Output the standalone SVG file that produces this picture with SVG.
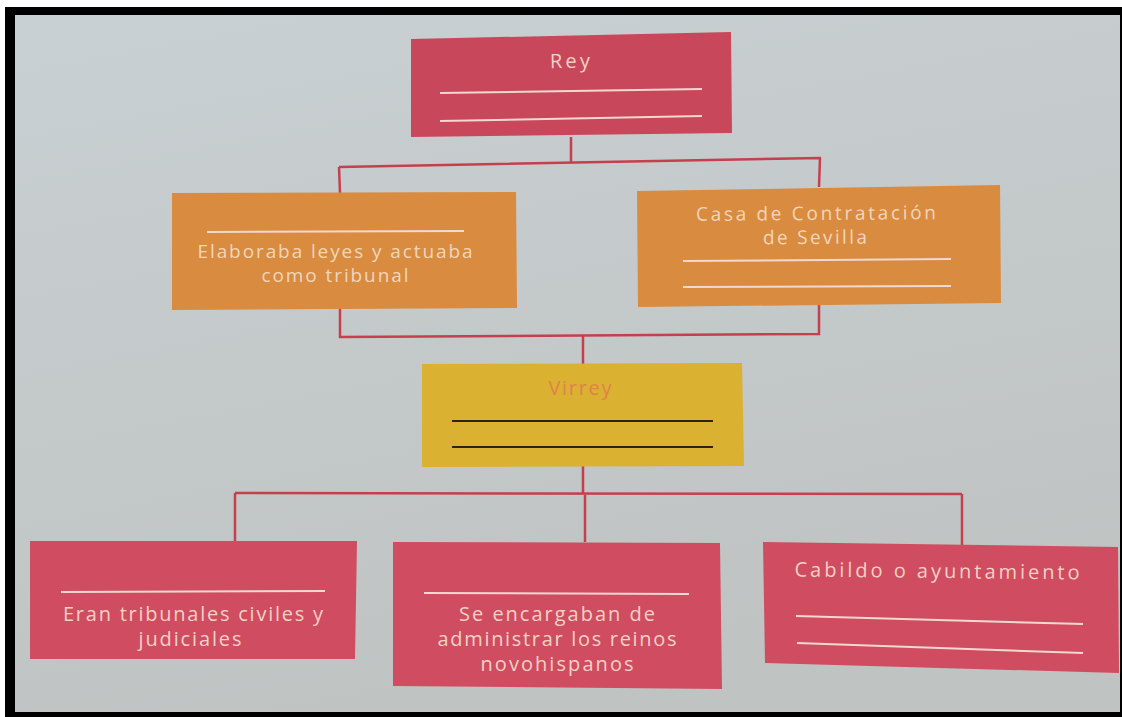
<svg xmlns="http://www.w3.org/2000/svg" width="1122" height="717" viewBox="0 0 1122 717">
<defs>
<linearGradient id="bg" x1="0" y1="0" x2="0.3" y2="1">
<stop offset="0" stop-color="#c9d0d3"/>
<stop offset="1" stop-color="#bfc3c2"/>
</linearGradient>
</defs>
<style>
.red{fill:#c9475a}
.red2{fill:#d04c60}
.orange{fill:#d98b3f}
.yellow{fill:#dbb132}
.rule{stroke:#f1d9d2;stroke-width:2;fill:none}
.rule-dark{stroke:#2a2318;stroke-width:2;fill:none}
.lbl{font-family:"Open Sans","Noto Sans",sans-serif;fill:#f0d2c6;text-anchor:middle;font-size:20px}
.lbl-o{font-family:"Open Sans","Noto Sans",sans-serif;fill:#f0d6bc;text-anchor:middle;font-size:19px}
.lbl-v{font-family:"Open Sans","Noto Sans",sans-serif;fill:#e0824a;text-anchor:middle;font-size:20px}
.conn{stroke:#c53f4d;stroke-width:2.5;fill:none}
</style>
<rect x="0" y="0" width="1122" height="717" fill="#ffffff"/>
<rect x="5" y="7" width="1117" height="710" fill="#000000"/>
<rect x="15" y="15" width="1105" height="697" fill="url(#bg)"/>

<g id="connectors">
<path class="conn" d="M571,137 L571,163 M339,167 L821,158 M339,167 L340,193 M820,158 L819,187 M340,309 L340,337 L819,334 L819,303 M583,336 L583,364 M583,466 L583,493 M235,493 L962,494 M235,493 L235,541 M585,493 L585,542 M962,494 L962,545"/>
</g>

<g id="rey">
<polygon class="red" points="411,39 731,32 732,133 411,137"/>
<text class="lbl" x="570" y="68" font-size="21" textLength="40" lengthAdjust="spacing" transform="rotate(-0.9 570 68)">Rey</text>
<line class="rule" x1="440" y1="93" x2="702" y2="89"/>
<line class="rule" x1="440" y1="121" x2="702" y2="116"/>
</g>

<g id="consejo-indias">
<polygon class="orange" points="172,193 516,192 517,308 172,310"/>
<line class="rule" x1="207" y1="232" x2="464" y2="231"/>
<text class="lbl-o" x="335" y="258" textLength="275" lengthAdjust="spacing">Elaboraba leyes y actuaba</text>
<text class="lbl-o" x="335" y="282" textLength="147" lengthAdjust="spacing">como tribunal</text>
</g>

<g id="casa-contratacion">
<polygon class="orange" points="637,191 1000,185 1001,303 638,307"/>
<text class="lbl-o" x="816" y="220" textLength="240" lengthAdjust="spacing" transform="rotate(-0.4 816 220)">Casa de Contratación</text>
<text class="lbl-o" x="815" y="244" textLength="104" lengthAdjust="spacing" transform="rotate(-0.4 815 244)">de Sevilla</text>
<line class="rule" x1="683" y1="261" x2="951" y2="259"/>
<line class="rule" x1="683" y1="287" x2="951" y2="286"/>
</g>

<g id="virrey">
<polygon class="yellow" points="422,364 742,363 744,466 422,467"/>
<text class="lbl-v" x="580" y="395" textLength="63" lengthAdjust="spacing">Virrey</text>
<line class="rule-dark" x1="452" y1="421" x2="713" y2="421"/>
<line class="rule-dark" x1="452" y1="447" x2="713" y2="447"/>
</g>

<g id="audiencias">
<polygon class="red2" points="30,541 357,541 355,659 30,659"/>
<line class="rule" x1="61" y1="592" x2="325" y2="591"/>
<text class="lbl" x="193" y="621" textLength="260" lengthAdjust="spacing">Eran tribunales civiles y</text>
<text class="lbl" x="190" y="646" textLength="103" lengthAdjust="spacing">judiciales</text>
</g>

<g id="alcaldias">
<polygon class="red2" points="393,542 720,543 722,689 393,686"/>
<line class="rule" x1="424" y1="593" x2="689" y2="594"/>
<text class="lbl" x="557" y="621" textLength="196" lengthAdjust="spacing">Se encargaban de</text>
<text class="lbl" x="557" y="646" textLength="239" lengthAdjust="spacing">administrar los reinos</text>
<text class="lbl" x="557" y="671" textLength="153" lengthAdjust="spacing">novohispanos</text>
</g>

<g id="cabildo">
<polygon class="red2" points="763,542 1118,547 1119,673 765,663"/>
<text class="lbl" x="937" y="578" font-size="22" textLength="285" lengthAdjust="spacing" transform="rotate(0.6 937 578)">Cabildo o ayuntamiento</text>
<line class="rule" x1="796" y1="616" x2="1083" y2="624"/>
<line class="rule" x1="797" y1="643" x2="1083" y2="653"/>
</g>
</svg>
